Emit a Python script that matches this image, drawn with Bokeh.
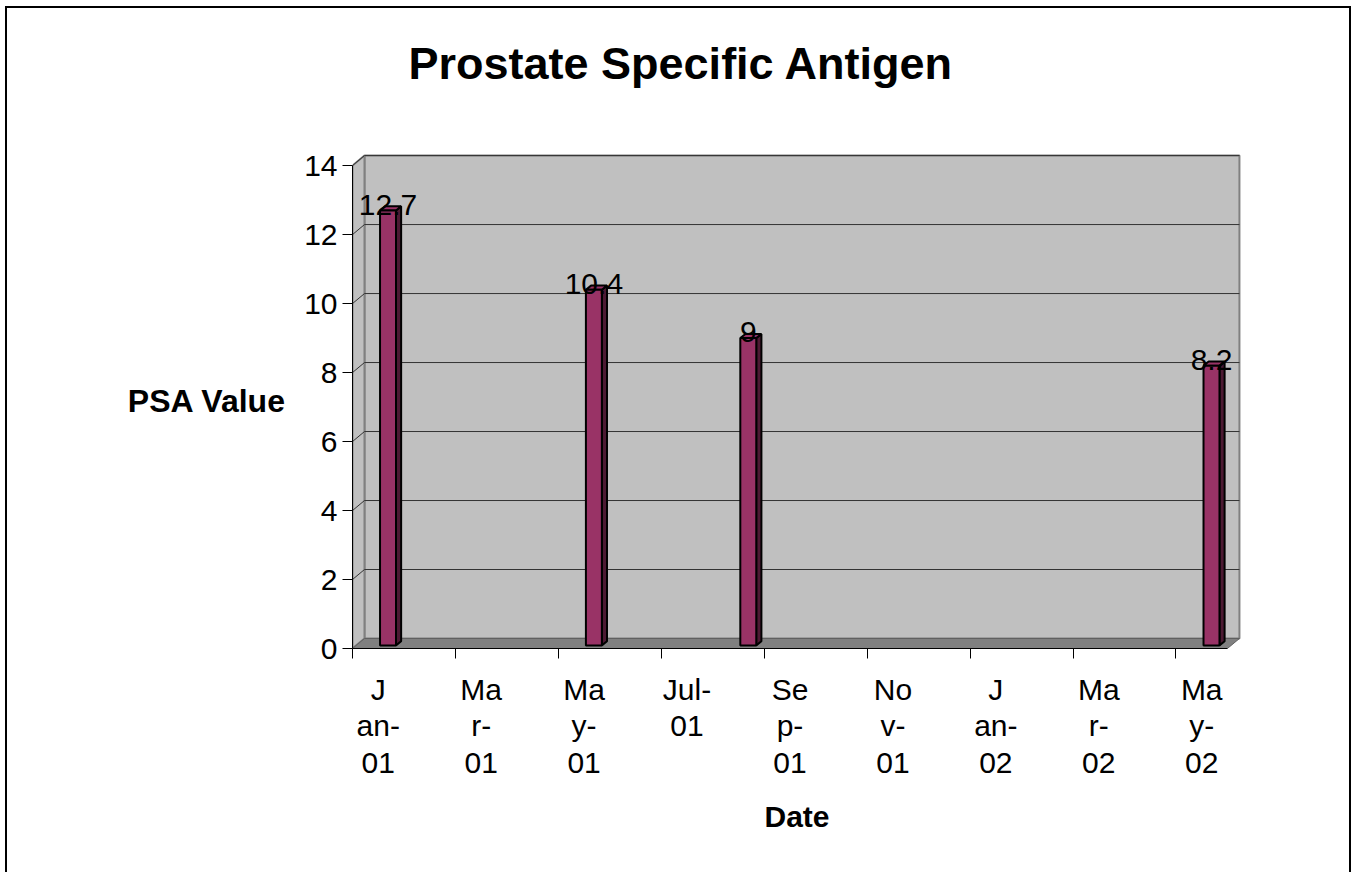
import pandas as pd
from bokeh.plotting import figure
from bokeh.models import Range1d, FixedTicker, Title
from bokeh.core.properties import value
from bokeh.embed import file_html
from bokeh.resources import INLINE

# ---------------- data ----------------
title = "Prostate Specific Antigen"
x_title = "Date"
y_title = "PSA Value"
dates = ["Jan-01", "May-01", "Aug-01", "May-02"]
psa = [12.7, 10.4, 9.0, 8.2]
data_labels = ["12.7", "10.4", "9", "8.2"]
axis_start = "Jan-01"
axis_months = 17
x_tick_labels = ["J\nan-\n01", "Ma\nr-\n01", "Ma\ny-\n01", "Jul-\n01", "Se\np-\n01",
                 "No\nv-\n01", "J\nan-\n02", "Ma\nr-\n02", "Ma\ny-\n02"]
y_ticks = [0, 2, 4, 6, 8, 10, 12, 14]

# ---------------- style constants ----------------
FONT = "Liberation Sans"
DX, DY = 0.233, 0.29          # 3D depth offset (months, value units)
BAR_W, BAR_SHIFT, BAR_BASE = 0.31, 0.19, 0.09
SIDE_X, SIDE_Y = 0.1, 0.12
WALL = "#C0C0C0"
FLOOR = "#808080"
BAR = "#993366"
BAR_DARK = "#4D1A33"

start = pd.to_datetime(axis_start, format="%b-%y")
def month_index(s):
    d = pd.to_datetime(s, format="%b-%y")
    return (d.year - start.year) * 12 + d.month - start.month

idx = [month_index(d) for d in dates]
ymax = max(y_ticks)

W, H = 1346, 866
p = figure(width=W, height=H, output_backend="svg", toolbar_location=None, title=None,
           x_range=Range1d(0, axis_months + DX + 0.04), y_range=Range1d(0, ymax + DY + 0.06),
           min_border_left=345, min_border_right=112, min_border_top=145, min_border_bottom=226)
p.outline_line_color = None
p.xgrid.visible = False
p.ygrid.visible = False
p.background_fill_color = "white"
p.border_fill_color = "white"
p.styles = {"border-left": "2px solid black", "border-top": "2px solid black",
            "border-right": "2px solid black", "margin-left": "5px", "margin-top": "6px"}

# back wall
p.quad(left=DX, right=axis_months + DX, bottom=DY, top=ymax + DY,
       fill_color=WALL, line_color=FLOOR, line_width=2)
# left wall
p.patch(x=[0, 0, DX, DX], y=[0, ymax, ymax + DY, DY], fill_color=WALL, line_color=FLOOR, line_width=2)
# gridlines on back wall + diagonals on side wall
gl = [v for v in y_ticks if v > 0]
p.segment(x0=[DX] * len(gl), y0=[v + DY for v in gl], x1=[axis_months + DX] * len(gl),
          y1=[v + DY for v in gl], line_color="#333333", line_width=1)
p.segment(x0=[0] * len(gl), y0=gl, x1=[DX] * len(gl), y1=[v + DY for v in gl],
          line_color="#333333", line_width=1)
# floor
p.patch(x=[0, axis_months, axis_months + DX, DX], y=[0, 0, DY, DY],
        fill_color=FLOOR, line_color="#606060", line_width=1)

# bars (3D columns)
cx = [m + 0.5 + BAR_SHIFT for m in idx]
p.patches(xs=[[c + BAR_W / 2, c + BAR_W / 2 + SIDE_X, c + BAR_W / 2 + SIDE_X, c + BAR_W / 2] for c in cx],
          ys=[[BAR_BASE, BAR_BASE + SIDE_Y, v + SIDE_Y, v] for v in psa],
          fill_color=BAR_DARK, line_color="black", line_width=2)
p.patches(xs=[[c - BAR_W / 2, c + BAR_W / 2, c + BAR_W / 2 + SIDE_X, c - BAR_W / 2 + SIDE_X] for c in cx],
          ys=[[v, v, v + SIDE_Y, v + SIDE_Y] for v in psa],
          fill_color=BAR, line_color="black", line_width=2)
p.vbar(x=cx, top=psa, bottom=BAR_BASE, width=BAR_W, fill_color=BAR, line_color="black", line_width=2)

# data labels
p.text(x=cx, y=[v + 0.17 for v in psa], text=data_labels, text_align="center", text_baseline="middle",
       text_font=value(FONT), text_font_size="30px", text_color="black")

# axes
p.xaxis.bounds = (0, axis_months)
p.xaxis.ticker = FixedTicker(ticks=[i + 0.5 for i in range(0, axis_months, 2)],
                             minor_ticks=list(range(0, axis_months, 2)))
p.xaxis.major_label_overrides = {i + 0.5: lab for i, lab in zip(range(0, axis_months, 2), x_tick_labels)}
p.xaxis.major_tick_out = 0
p.xaxis.major_tick_in = 0
p.xaxis.minor_tick_out = 10
p.xaxis.minor_tick_in = 0
p.xaxis.minor_tick_line_color = "black"
p.xaxis.major_label_standoff = 14
p.xaxis.major_label_text_line_height = 1.12

p.yaxis.bounds = (0, ymax)
p.yaxis.ticker = FixedTicker(ticks=y_ticks)
p.yaxis.major_tick_out = 10
p.yaxis.major_tick_in = 0
p.yaxis.minor_tick_line_color = None
p.yaxis.major_label_standoff = 5

for ax in (p.xaxis, p.yaxis):
    ax.axis_line_color = "black"
    ax.major_tick_line_color = "black"
    ax.major_label_text_font = FONT
    ax.major_label_text_font_size = "30px"
    ax.major_label_text_color = "black"
    ax.axis_label_text_font = FONT
    ax.axis_label_text_font_size = "30px"
    ax.axis_label_text_font_style = "bold"
    ax.axis_label_text_color = "black"

p.xaxis.axis_label = x_title
p.xaxis.axis_label_standoff = 18
p.yaxis.axis_label = y_title
p.yaxis.axis_label_text_font_size = "32px"
p.yaxis.axis_label_standoff = 15
try:
    p.yaxis.axis_label_orientation = "horizontal"
except Exception:
    pass

# title: a thin spacer next to the frame, then the main title above it
spacer = Title(text=" ", text_font_size="2px", standoff=56)
p.add_layout(spacer, "above")
main_title = Title(text=title, text_font=FONT, text_font_size="45px", text_font_style="bold",
                   text_color="black", align="left", offset=56, standoff=10)
p.add_layout(main_title, "above")

open("out.html", "w").write(file_html(p, INLINE))
